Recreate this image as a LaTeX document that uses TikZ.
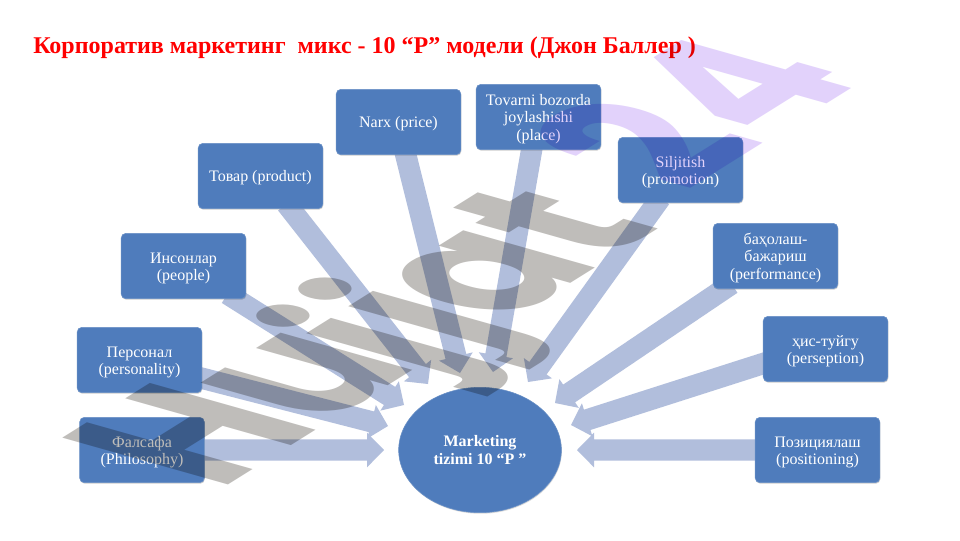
\documentclass[tikz,border=0pt]{standalone}
\usepackage{fontspec}
\setmainfont{Liberation Serif}
\newfontfamily\wmfont{Poppins}
\usetikzlibrary{calc,backgrounds,shadows,shapes.geometric}
\definecolor{boxblue}{HTML}{4F7CBC}
\definecolor{arrowblue}{HTML}{B1BEDC}
\definecolor{wmgray}{HTML}{BFBDBA}
\definecolor{wmviolet}{HTML}{E2D2FB}
\newcommand{\tf}{\rule{0pt}{11.2pt}}
\tikzset{
  x=0.75pt,y=-0.75pt,
  boxnode/.style={draw=boxblue!85!white,line width=.4pt,fill=boxblue,rounded corners=3.5pt,minimum width=93.5pt,minimum height=49pt,
    text=white,align=center,inner sep=1pt,font=\fontsize{12}{13}\selectfont,
    drop shadow={shadow xshift=.4pt,shadow yshift=-.8pt,opacity=.28,fill=black!70}},
  hubnode/.style={ellipse,draw=boxblue!85!white,line width=.4pt,fill=boxblue,minimum width=122pt,minimum height=94pt,
    text=white,align=center,inner sep=0pt,font=\bfseries\fontsize{12}{13}\selectfont,
    drop shadow={shadow xshift=.4pt,shadow yshift=-.8pt,opacity=.2,fill=black!70}},
  titlenode/.style={anchor=west,inner sep=0pt,text=red,font=\bfseries\fontsize{18}{20}\selectfont},
  arrowfill/.style={fill=arrowblue},
  wmnode/.style={anchor=base west,inner sep=0pt,font=\wmfont\bfseries\fontsize{100}{100}\selectfont}
}
\newcommand{\blockarrow}[2]{%
  \coordinate (hb) at ($(#2)!12.75pt!(#1)$);
  \fill[arrowfill] ($(#1)!8pt!90:(#2)$) -- ($(hb)!8pt!-90:(#1)$) -- ($(hb)!13pt!-90:(#1)$) -- (#2)
     -- ($(hb)!13pt!90:(#1)$) -- ($(hb)!8pt!90:(#1)$) -- ($(#1)!8pt!-90:(#2)$) -- cycle;
}
\begin{document}
\begin{tikzpicture}
\path[use as bounding box] (0,0) rectangle (960,540);
\node[titlenode] (title) at (33,48) {Корпоратив маркетинг \ микс - 10 “P” модели (Джон Баллер )};
\node[boxnode] (phil) at (142,450) {\tf Фалсафа\\(Philosophy)};
\node[boxnode] (pers) at (139.5,360) {\tf Персонал\\(personality)};
\node[boxnode] (peop) at (183.5,266) {\tf Инсонлар\\(people)};
\node[boxnode] (prod) at (260.5,176) {\tf Товар (product)};
\node[boxnode] (pric) at (398.5,122) {\tf Narx (price)};
\node[boxnode] (plac) at (538.5,117) {\tf Tovarni bozorda\\joylashishi\\(place)};
\node[boxnode] (prom) at (680.5,170) {\tf Siljitish\\(promotion)};
\node[boxnode] (perf) at (775.5,256) {\tf баҳолаш-\\бажариш\\(performance)};
\node[boxnode] (perc) at (825.5,349) {\tf ҳис-туйгу\\(perseption)};
\node[boxnode] (posi) at (817.5,450) {\tf Позициялаш\\(positioning)};
\node[hubnode] (hub) at (480,450) {Marketing\\tizimi 10 “P ”};
\coordinate (tphil) at (384,450);
\coordinate (tpers) at (388,426);
\coordinate (tpeop) at (404,405);
\coordinate (tprod) at (428,384);
\coordinate (tpric) at (460,373);
\coordinate (tplac) at (493,372);
\coordinate (tprom) at (528,382);
\coordinate (tperf) at (555,403);
\coordinate (tperc) at (571,425);
\coordinate (tposi) at (577,450);
\coordinate (sphil) at (phil.east);
\coordinate (spers) at ($(pers.east)+(-5,17)$);
\coordinate (speop) at ($(peop.south)+(44,-5)$);
\coordinate (sprod) at ($(prod.south)+(26,-5)$);
\coordinate (spric) at ($(pric.south)+(6,-5)$);
\coordinate (splac) at ($(plac.south)-(6,5)$);
\coordinate (sprom) at ($(prom.south)-(20,5)$);
\coordinate (sperf) at ($(perf.south)-(44,5)$);
\coordinate (sperc) at ($(perc.west)+(5,13)$);
\coordinate (sposi) at (posi.west);
\begin{scope}[on background layer]
  \fill[white] (0,0) rectangle (960,540);
  \blockarrow{sphil}{tphil}
  \blockarrow{spers}{tpers}
  \blockarrow{speop}{tpeop}
  \blockarrow{sprod}{tprod}
  \blockarrow{spric}{tpric}
  \blockarrow{splac}{tplac}
  \blockarrow{sprom}{tprom}
  \blockarrow{sperf}{tperf}
  \blockarrow{sperc}{tperc}
  \blockarrow{sposi}{tposi}
\end{scope}
\begin{scope}[blend mode=multiply,cm={1.08,.675,-1.77,.50,(219,491)},transform shape]
  \node[wmnode] (mark) at (0,0) {\textcolor{wmgray}{Hu\kern-7.45pt\raisebox{-7.9pt}{jj}\kern-1.7pt\raisebox{-5.6pt}{at}}\kern30.5pt\textcolor{wmviolet}{\raisebox{2.5pt}{2}\kern2.7pt\raisebox{3.3pt}{4}}};
\end{scope}
\end{tikzpicture}
\end{document}
